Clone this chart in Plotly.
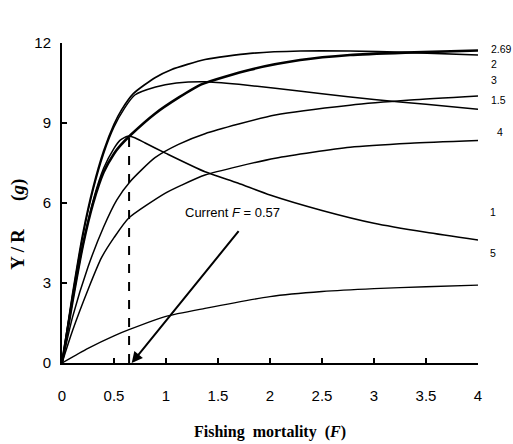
import plotly.graph_objects as go

# ---- data ----
F_tc1 = [0, 0.1, 0.2, 0.3, 0.4, 0.5, 0.56, 0.63, 0.7, 0.8, 1.0, 1.375, 1.69, 2.0, 2.5, 3.0, 3.5, 4.0]
Y_tc1 = [0, 2.3, 4.4, 6.1, 7.3, 8.05, 8.36, 8.5, 8.45, 8.25, 7.86, 7.17, 6.75, 6.3, 5.72, 5.24, 4.9, 4.61]

F_tc15 = [0, 0.1, 0.2, 0.3, 0.4, 0.5, 0.6, 0.7, 0.9, 1.1, 1.375, 1.7, 2.05, 2.5, 3.0, 3.5, 4.0]
Y_tc15 = [0, 2.5, 4.75, 6.5, 7.85, 8.85, 9.55, 10.05, 10.35, 10.5, 10.55, 10.45, 10.3, 10.1, 9.88, 9.7, 9.52]

F_tc2 = [0, 0.1, 0.2, 0.3, 0.4, 0.5, 0.574, 0.686, 0.894, 1.05, 1.375, 1.81, 2.29, 2.77, 3.3, 4.0]
Y_tc2 = [0, 2.55, 4.85, 6.6, 7.95, 8.95, 9.5, 10.1, 10.7, 11.0, 11.38, 11.61, 11.7, 11.7, 11.65, 11.55]

F_tc269 = [0, 0.1, 0.2, 0.3, 0.4, 0.5, 0.56, 0.66, 0.894, 1.12, 1.34, 1.81, 2.29, 2.77, 3.3, 4.0]
Y_tc269 = [0, 2.3, 4.4, 6.0, 7.15, 7.85, 8.15, 8.55, 9.35, 9.95, 10.45, 11.0, 11.36, 11.55, 11.64, 11.72]

F_tc3 = [0, 0.1, 0.25, 0.4, 0.526, 0.654, 0.894, 1.12, 1.375, 2.05, 2.77, 3.35, 4.0]
Y_tc3 = [0, 1.7, 3.6, 5.1, 6.11, 6.8, 7.7, 8.2, 8.6, 9.3, 9.67, 9.86, 10.01]

F_tc4 = [0, 0.1, 0.25, 0.38, 0.5, 0.64, 0.99, 1.15, 1.375, 2.05, 2.77, 3.35, 4.0]
Y_tc4 = [0, 1.2, 2.75, 3.95, 4.7, 5.43, 6.36, 6.67, 7.05, 7.68, 8.09, 8.24, 8.34]

F_tc5 = [0, 0.25, 0.5, 0.65, 1.0, 1.375, 2.0, 2.5, 3.0, 3.5, 4.0]
Y_tc5 = [0, 0.55, 1.02, 1.26, 1.75, 2.05, 2.49, 2.68, 2.79, 2.86, 2.92]

dash_F = [0.645, 0.645]
dash_Y = [0, 8.55]

x_ticks = [0, 0.5, 1, 1.5, 2, 2.5, 3, 3.5, 4]
x_ticktext = ["0", "0.5", "1", "1.5", "2", "2.5", "3", "3.5", "4"]
y_ticks = [0, 3, 6, 9, 12]
y_ticktext = ["0", "3", "6", "9", "12"]

# right-hand t_c labels: (text, y position in data units, x in paper units)
tc_labels = ["2.69", "2", "3", "1.5", "4", "1", "5"]
tc_label_y = [11.76, 11.2, 10.6, 9.88, 8.66, 5.66, 4.12]
tc_label_x = [1.026, 1.026, 1.026, 1.026, 1.04, 1.024, 1.024]

current_text = "Current <i>F</i> = 0.57"

fig = go.Figure()

series = [
    (F_tc1, Y_tc1, 1.5),
    (F_tc15, Y_tc15, 1.5),
    (F_tc2, Y_tc2, 1.7),
    (F_tc3, Y_tc3, 1.5),
    (F_tc4, Y_tc4, 1.5),
    (F_tc5, Y_tc5, 1.4),
    (F_tc269, Y_tc269, 2.6),
]
for fx, fy, w in series:
    fig.add_trace(go.Scatter(x=fx, y=fy, mode="lines",
                             line=dict(color="black", width=w, shape="spline", smoothing=0.6),
                             showlegend=False, hoverinfo="skip"))

fig.add_trace(go.Scatter(x=dash_F, y=dash_Y, mode="lines",
                         line=dict(color="black", width=2, dash="dash"),
                         showlegend=False, hoverinfo="skip"))

ann = []
for t, yv, xv in zip(tc_labels, tc_label_y, tc_label_x):
    ann.append(dict(x=xv, xref="paper", y=yv, yref="y", text=t, showarrow=False,
                    xanchor="left", yanchor="middle",
                    font=dict(family="Liberation Sans, Arial", size=10.5, color="black")))

ann.append(dict(x=1.0965, xref="paper", y=13.05, yref="y",
                text="<b><i>t</i></b><sub><b><i>c</i></b></sub>", showarrow=False,
                xanchor="center", yanchor="middle",
                font=dict(family="Liberation Serif, Times New Roman", size=16, color="black")))

ann.append(dict(x=1.644, y=5.66, xref="x", yref="y", text=current_text, showarrow=False,
                xanchor="center", yanchor="middle",
                font=dict(family="Liberation Sans, Arial", size=13, color="black")))

ann.append(dict(x=0.67, y=0.0, xref="x", yref="y", ax=1.71, ay=5.0, axref="x", ayref="y",
                text="", showarrow=True, arrowhead=2, arrowsize=1.1, arrowwidth=2,
                arrowcolor="black", standoff=0))

ann.append(dict(x=0.5, xref="paper", y=-0.216, yref="paper",
                text="<b>Fishing\u00a0 mortality\u00a0 (<i>F</i>)</b>", showarrow=False,
                xanchor="center", yanchor="middle",
                font=dict(family="Liberation Serif, Times New Roman", size=16, color="black")))

ann.append(dict(x=-0.106, xref="paper", y=0.435, yref="paper",
                text="<b>Y\u2009/\u2009R\u2003\u2002(<i>g</i>)</b>", showarrow=False,
                textangle=-90, xanchor="center", yanchor="middle",
                font=dict(family="Liberation Serif, Times New Roman", size=19, color="black")))

fig.update_layout(
    width=513, height=444,
    margin=dict(l=62, r=35, t=43, b=81),
    paper_bgcolor="white", plot_bgcolor="white",
    annotations=ann,
    xaxis=dict(range=[0, 4], tickvals=x_ticks, ticktext=x_ticktext,
               showgrid=False, zeroline=False, showline=True, linecolor="black", linewidth=2,
               ticks="inside", ticklen=5, tickwidth=1.5, tickcolor="black",
               ticklabelstandoff=18,
               tickfont=dict(family="Liberation Sans, Arial", size=15, color="black")),
    yaxis=dict(range=[0, 12], tickvals=y_ticks, ticktext=y_ticktext,
               showgrid=False, zeroline=False, showline=True, linecolor="black", linewidth=2,
               ticks="inside", ticklen=5, tickwidth=1.5, tickcolor="black",
               ticklabelstandoff=6,
               tickfont=dict(family="Liberation Sans, Arial", size=15, color="black")),
)

fig.write_html("out.html")
